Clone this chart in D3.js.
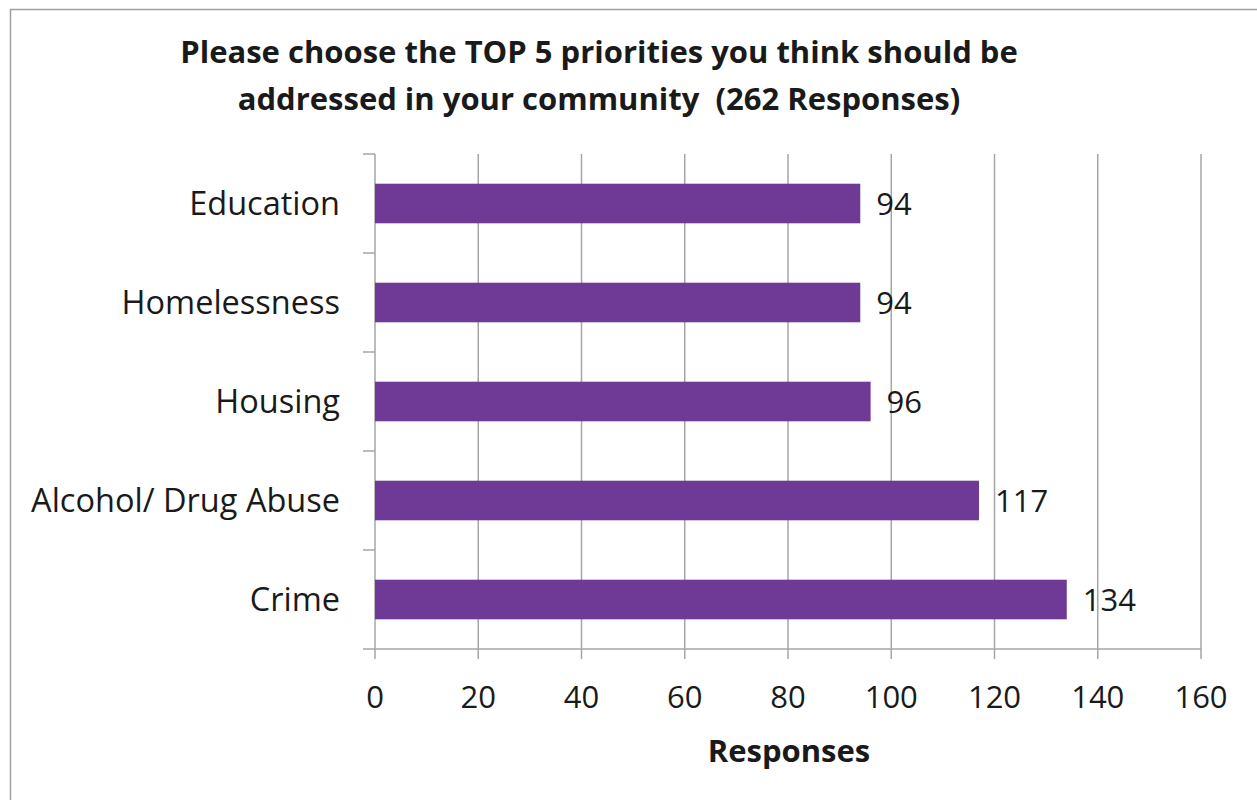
<!DOCTYPE html>
<html>
<head>
<meta charset="utf-8">
<script src="https://cdn.jsdelivr.net/npm/d3@7/dist/d3.min.js"></script>
<style>
  html, body { margin: 0; padding: 0; background: #fff; }
  svg { display: block; }
  text { font-family: "Open Sans", Lato, sans-serif; fill: #1a1a1a; white-space: pre; }
</style>
</head>
<body>
<svg id="chart" width="1257" height="800"></svg>
<script>
const categories = ["Education", "Homelessness", "Housing", "Alcohol/ Drug Abuse", "Crime"];
const responses = [94, 94, 96, 117, 134];
const xTicks = [0, 20, 40, 60, 80, 100, 120, 140, 160];
const titleLines = ["Please choose the TOP 5 priorities you think should be", "addressed in your community  (262 Responses)"];
const xAxisTitle = "Responses";

const svg = d3.select("#chart");
const W = 1257, H = 800;
const m = { left: 375, right: 1201, top: 154, bottom: 649 };
const gridColor = "#a6a6a6";
const barColor = "#6f3996";

svg.append("rect").attr("x", 10.5).attr("y", 9.5).attr("width", W + 20).attr("height", H + 20)
  .attr("fill", "none").attr("stroke", "#a0a0a0").attr("stroke-width", 1.5);

const x = d3.scaleLinear().domain([0, 160]).range([m.left, m.right]);
const y = d3.scaleBand().domain(categories).range([m.top, m.bottom]).paddingInner(0.6).paddingOuter(0.3);
const yEdges = d3.scaleBand().domain(categories).range([m.top, m.bottom]);

// gridlines
svg.append("g").selectAll("line").data(xTicks.filter(d => d > 0)).join("line")
  .attr("x1", d => x(d)).attr("x2", d => x(d)).attr("y1", m.top).attr("y2", m.bottom + 10)
  .attr("stroke", gridColor).attr("stroke-width", 1.5);

// y axis line + ticks
const gy = svg.append("g");
gy.append("line").attr("x1", x(0)).attr("x2", x(0)).attr("y1", m.top).attr("y2", m.bottom + 10)
  .attr("stroke", gridColor).attr("stroke-width", 1.5);
gy.selectAll("line.tk").data(categories).join("line").attr("class", "tk")
  .attr("x1", x(0) - 12).attr("x2", x(0)).attr("y1", d => yEdges(d)).attr("y2", d => yEdges(d))
  .attr("stroke", gridColor).attr("stroke-width", 1.5);

// x axis line
svg.append("line").attr("x1", x(0) - 12).attr("x2", x(160)).attr("y1", m.bottom).attr("y2", m.bottom)
  .attr("stroke", gridColor).attr("stroke-width", 1.5);

// bars
svg.append("g").selectAll("rect").data(categories).join("rect")
  .attr("x", x(0)).attr("y", (d) => y(d)).attr("width", (d, i) => x(responses[i]) - x(0))
  .attr("height", y.bandwidth()).attr("fill", barColor);

// value labels
svg.append("g").selectAll("text").data(categories).join("text")
  .attr("x", (d, i) => x(responses[i]) + 16).attr("y", d => y(d) + y.bandwidth() / 2)
  .attr("dy", "0.38em").attr("font-size", 31).text((d, i) => responses[i]);

// category labels
svg.append("g").selectAll("text").data(categories).join("text")
  .attr("x", 340).attr("y", d => y(d) + y.bandwidth() / 2).attr("dy", "0.36em")
  .attr("text-anchor", "end").attr("font-size", 32.5).text(d => d);

// x tick labels
svg.append("g").selectAll("text").data(xTicks).join("text")
  .attr("x", d => x(d)).attr("y", 708).attr("text-anchor", "middle").attr("font-size", 31).text(d => d);

// axis title
svg.append("text").attr("x", 789).attr("y", 762).attr("text-anchor", "middle")
  .attr("font-size", 31).attr("font-weight", "bold").text(xAxisTitle);

// title
svg.append("g").selectAll("text").data(titleLines).join("text")
  .attr("x", 599).attr("y", (d, i) => 63 + i * 47).attr("text-anchor", "middle")
  .attr("font-size", 31).attr("font-weight", "bold").text(d => d);
</script>
</body>
</html>
